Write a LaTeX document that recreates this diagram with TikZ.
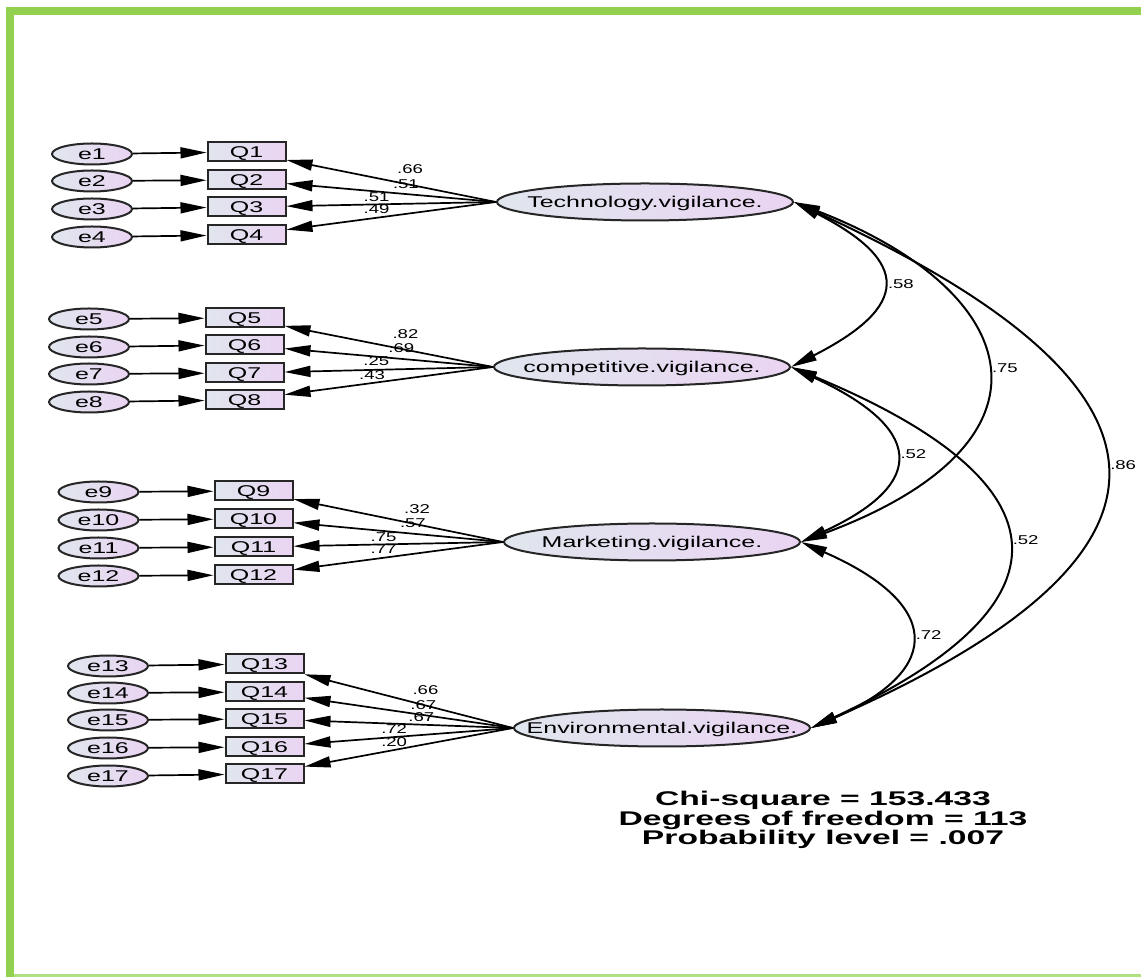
\documentclass[tikz,border=0pt]{standalone}
\usepackage{fontspec}
\setmainfont{Liberation Sans}
\usepackage{graphicx}
\usetikzlibrary{arrows.meta,shapes.geometric}

\definecolor{framegreen}{RGB}{146,208,80}
\definecolor{framelight}{RGB}{176,224,128}
\definecolor{shadeL}{RGB}{224,230,238}
\definecolor{shadeR}{RGB}{234,212,242}
\newcommand{\wide}[2][1.6]{\scalebox{#1}[1]{#2}}
\newcommand{\lbox}[1]{\makebox[0pt]{\wide{#1}}}

\tikzset{
  box text/.style={font=\fontsize{7.8}{8}\selectfont,text height=5.6pt,text depth=0pt},
  err/.style={ellipse,draw=black!85,line width=1pt,left color=shadeL,right color=shadeR,
    minimum width=40pt,minimum height=10.5pt,inner sep=0pt,box text},
  obs/.style={rectangle,draw=black!85,line width=1pt,left color=shadeL,right color=shadeR,
    minimum width=39pt,minimum height=9.5pt,inner sep=0pt,box text},
  lat/.style={ellipse,draw=black!85,line width=1pt,left color=shadeL,right color=shadeR,
    minimum width=148pt,minimum height=18.5pt,inner sep=0pt,box text},
  link/.style={-{Triangle[length=13pt,width=5.5pt]},line width=0.85pt},
  cov/.style={{Triangle[length=13pt,width=5.5pt]}-{Triangle[length=13pt,width=5.5pt]},line width=1pt},
  est/.style={font=\fontsize{6.4}{7}\selectfont,inner sep=0pt},
}

\begin{document}
\begin{tikzpicture}[x=0.5pt,y=-0.5pt]
		\useasboundingbox (0,0) rectangle (1141,977);
		% frame
		\fill[framegreen] (6,7) rectangle (14,977);
		\fill[framegreen] (6,7) rectangle (1141,15);
		\fill[framelight] (14,974) rectangle (1141,977);
		% latent variables
		\node[lat] (tech) at (645,202) {\lbox{Technology.vigilance.}};
		\node[lat] (comp) at (642,367) {\lbox{competitive.vigilance.}};
		\node[lat] (mkt) at (652,542) {\lbox{Marketing.vigilance.}};
		\node[lat] (env) at (662,728) {\lbox{Environmental.vigilance.}};
		% items and errors
		\foreach \idx/\ey/\qy/\val/\ps/\sh in {1/154/152/.66/.41/5pt,2/181/180/.51/.43/2.5pt,3/209/207/.51/.57/1.2pt,4/237/235/.49/.57/1.5pt}{
			\node[err] (e\idx) at (92,\ey) {\wide{e\idx}};
			\node[obs] (Q\idx) at (246.5,\qy) {\wide{Q\idx}};
			\draw[link] (e\idx) -- (Q\idx);
			\draw[link] (tech.west) -- (Q\idx) node[est,pos=\ps,above=\sh] {\wide[1.45]{\val}};
		}
		\foreach \idx/\ey/\qy/\val/\ps/\sh in {5/319/318/.82/.42/5pt,6/347/345/.69/.44/2.5pt,7/374/373/.25/.56/1.5pt,8/402/400/.43/.58/1.5pt}{
			\node[err] (e\idx) at (89,\ey) {\wide{e\idx}};
			\node[obs] (Q\idx) at (244.5,\qy) {\wide{Q\idx}};
			\draw[link] (e\idx) -- (Q\idx);
			\draw[link] (comp.west) -- (Q\idx) node[est,pos=\ps,above=\sh] {\wide[1.45]{\val}};
		}
		\foreach \idx/\ey/\qy/\val/\ps/\sh in {9/492/491/.32/.41/5pt,10/520/519/.57/.43/2.5pt,11/548/547/.75/.57/1.2pt,12/576/575/.77/.57/1.5pt}{
			\node[err] (e\idx) at (98.5,\ey) {\wide{e\idx}};
			\node[obs] (Q\idx) at (253.5,\qy) {\wide{Q\idx}};
			\draw[link] (e\idx) -- (Q\idx);
			\draw[link] (mkt.west) -- (Q\idx) node[est,pos=\ps,above=\sh] {\wide[1.45]{\val}};
		}
		\foreach \idx/\ey/\qy/\val/\ps/\sh in {13/666/664/.66/.42/5pt,14/693/692/.67/.43/2.5pt,15/720/719/.67/.44/1.2pt,16/748/747/.72/.57/1.2pt,17/776/774/.20/.57/1.5pt}{
			\node[err] (e\idx) at (108,\ey) {\wide{e\idx}};
			\node[obs] (Q\idx) at (264.5,\qy) {\wide{Q\idx}};
			\draw[link] (e\idx) -- (Q\idx);
			\draw[link] (env.west) -- (Q\idx) node[est,pos=\ps,above=\sh] {\wide[1.45]{\val}};
		}
		% covariances
		\draw[cov] (tech.east) .. controls +(118,60) and +(118,-60) .. (comp.east)
			node[est,pos=.5,right=3pt] {\wide[1.45]{.58}};
		\draw[cov] (tech.east) .. controls +(232,90) and +(268,-100) .. (mkt.east)
			node[est,pos=.5,right=3pt] {\wide[1.45]{.75}};
		\draw[cov] (tech.east) .. controls +(392,180) and +(410,-180) .. (env.east)
			node[est,pos=.5,right=3pt] {\wide[1.45]{.86}};
		\draw[cov] (comp.east) .. controls +(130,60) and +(130,-60) .. (mkt.east)
			node[est,pos=.5,right=3pt] {\wide[1.45]{.52}};
		\draw[cov] (comp.east) .. controls +(266,110) and +(280,-130) .. (env.east)
			node[est,pos=.5,right=3pt] {\wide[1.45]{.52}};
		\draw[cov] (mkt.east) .. controls +(137,60) and +(137,-60) .. (env.east)
			node[est,pos=.5,right=3pt] {\wide[1.45]{.72}};
		% fit
		\node[font=\bfseries\fontsize{9.9}{9.8}\selectfont,align=center] (fit) at (823,820)
			{\wide[1.7]{Chi-square = 153.433}\\\wide[1.7]{Degrees of freedom = 113}\\\wide[1.7]{Probability level = .007}};
	\end{tikzpicture}
\end{document}
